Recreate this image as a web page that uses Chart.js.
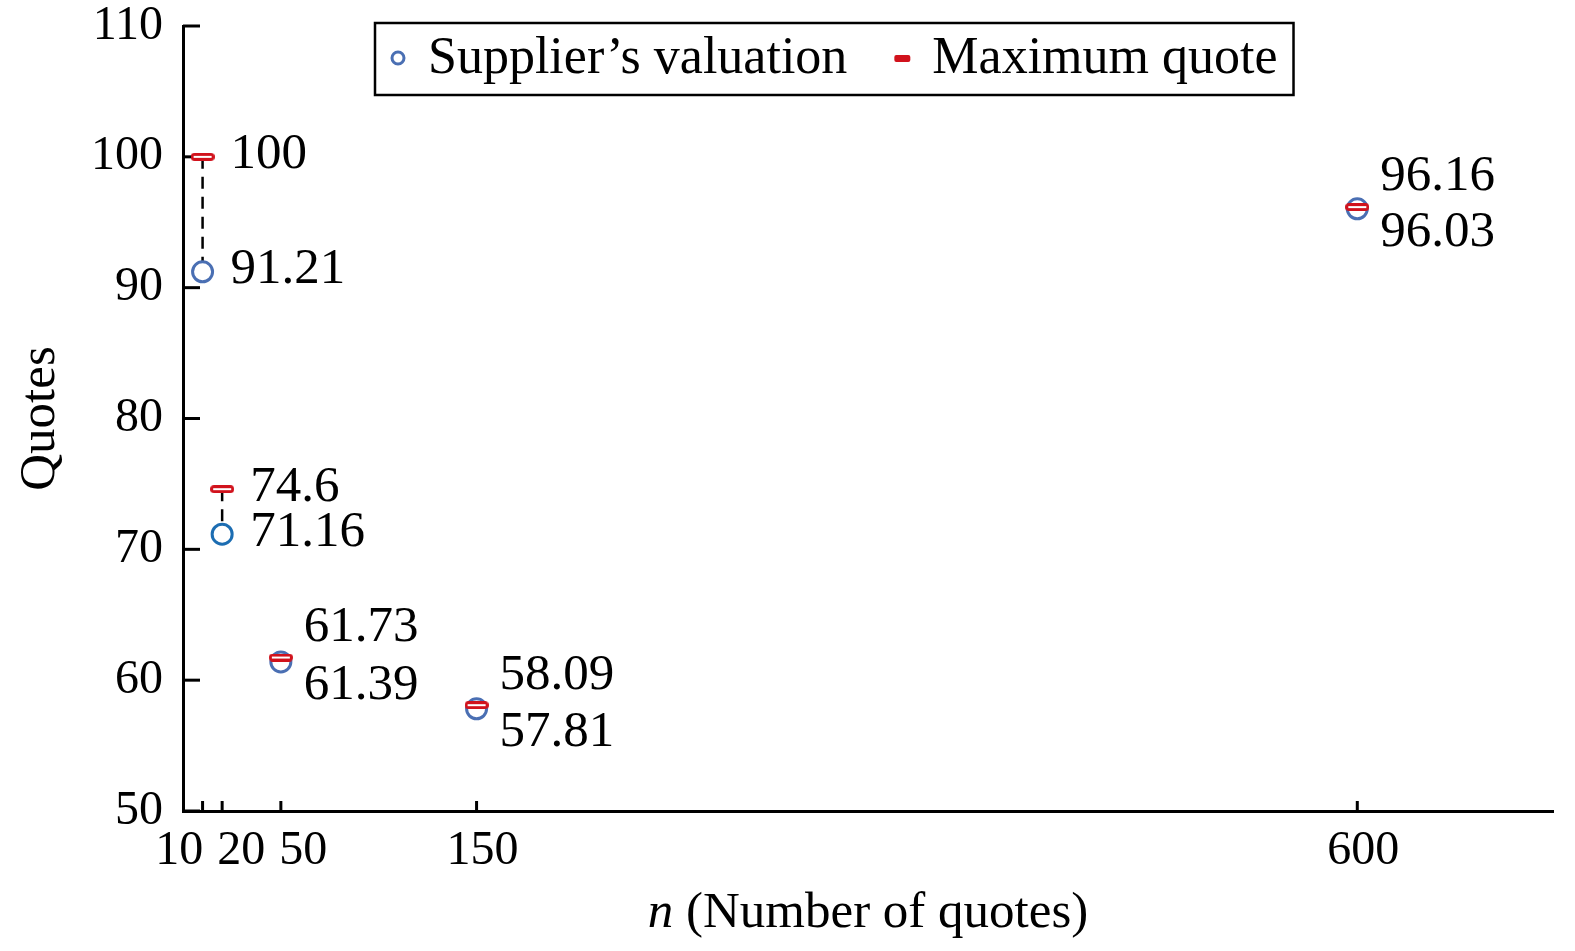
<!DOCTYPE html>
<html>
<head>
<meta charset="utf-8">
<script src="https://cdn.jsdelivr.net/npm/chart.js@4.4.1/dist/chart.umd.min.js"></script>
<style>
  html, body { margin: 0; padding: 0; background: #fff; }
  #wrap { width: 1575px; height: 951px; }
</style>
</head>
<body>
<div id="wrap"><canvas id="quotesChart" width="1575" height="951"></canvas></div>
<script>
// values
const nValues = [10, 20, 50, 150, 600];
const valuations = [91.21, 71.16, 61.39, 57.81, 96.03];
const maxQuotes = [100, 74.6, 61.73, 58.09, 96.16];
const yRange = [50, 110];
const xRange = [0, 700];
const seriesLabels = ['Supplier\u2019s valuation', 'Maximum quote'];

const SERIF = '"Liberation Serif", "Times New Roman", serif';
const BLUE = '#4a6fb3';
const BLUE_DARK = '#1c6db2';
const RED = '#d1121c';
// n=20 circle is drawn in a darker blue in the original
const circleColors = nValues.map((n, i) => i === 1 ? BLUE_DARK : BLUE);

function makeBar(w, h, hollow) {
    const c = document.createElement('canvas');
    c.width = w; c.height = h;
    const g = c.getContext('2d');
    g.fillStyle = RED;
    g.beginPath();
    g.roundRect(0, 0, w, h, h / 2);
    g.fill();
    if (hollow) {
        g.fillStyle = '#fff';
        g.fillRect(3, h / 2 - 1, w - 6, 2);
    }
    return c;
}
const barMarker = makeBar(24, 8, true);

// dashed connectors only where the two values are visibly apart
const connectors = nValues
    .map((n, i) => ({ n: n, lo: valuations[i], hi: maxQuotes[i] }))
    .filter(p => p.hi - p.lo > 2)
    .map(p => ({
        type: 'line',
        data: [{ x: p.n, y: p.hi }, { x: p.n, y: p.lo }],
        borderColor: '#000',
        borderWidth: 2.5,
        borderDash: [12, 8],
        pointRadius: 0,
        showLine: true,
        fill: false,
        order: 2
    }));

const extras = {
    id: 'extras',
    beforeDatasetsDraw(chart) {
        const { ctx, chartArea, scales } = chart;
        ctx.save();
        ctx.strokeStyle = '#000';
        ctx.lineWidth = 3;
        // ticks point inward
        scales.y.ticks.forEach(t => {
            const py = scales.y.getPixelForValue(t.value);
            ctx.beginPath();
            ctx.moveTo(chartArea.left, py);
            ctx.lineTo(chartArea.left + 17, py);
            ctx.stroke();
        });
        scales.x.ticks.forEach(t => {
            const px = scales.x.getPixelForValue(t.value);
            ctx.beginPath();
            ctx.moveTo(px, chartArea.bottom);
            ctx.lineTo(px, chartArea.bottom - 10);
            ctx.stroke();
        });
        ctx.restore();
    },
    afterDraw(chart) {
        const { ctx, chartArea, scales } = chart;
        ctx.save();
        ctx.fillStyle = '#000';

        // x tick labels, pushed apart where they would collide
        ctx.font = '48px ' + SERIF;
        ctx.textAlign = 'center';
        ctx.textBaseline = 'middle';
        const labs = scales.x.ticks.map(t => {
            const s = String(t.value);
            return { s: s, c: scales.x.getPixelForValue(t.value), w: ctx.measureText(s).width };
        });
        for (let k = 0; k < 50; k++) {
            for (let i = 0; i < labs.length - 1; i++) {
                const a = labs[i], b = labs[i + 1];
                const need = (a.w + b.w) / 2 + 14 - (b.c - a.c);
                if (need > 0) { a.c -= need / 2; b.c += need / 2; }
            }
        }
        labs.forEach(l => ctx.fillText(l.s, l.c + 6, chartArea.bottom + 40));

        // x title with italic n
        const ty = chartArea.bottom + 103;
        ctx.textAlign = 'left';
        ctx.font = 'italic 51px ' + SERIF;
        const w1 = ctx.measureText('n').width;
        ctx.font = '51px ' + SERIF;
        const rest = ' (Number of quotes)';
        const w2 = ctx.measureText(rest).width;
        const x0 = (chartArea.left + chartArea.right) / 2 - (w1 + w2) / 2;
        ctx.font = 'italic 51px ' + SERIF;
        ctx.fillText('n', x0, ty);
        ctx.font = '51px ' + SERIF;
        ctx.fillText(rest, x0 + w1, ty);

        // value labels
        ctx.font = '51px ' + SERIF;
        nValues.forEach((n, i) => {
            const px = scales.x.getPixelForValue(n);
            const yv = scales.y.getPixelForValue(valuations[i]);
            const ym = scales.y.getPixelForValue(maxQuotes[i]);
            if (maxQuotes[i] - valuations[i] > 2) {
                ctx.fillText(String(maxQuotes[i]), px + 28, ym - 2);
                ctx.fillText(String(valuations[i]), px + 28, yv - 2);
            } else {
                ctx.fillText(String(maxQuotes[i]), px + 23, ym - 30);
                ctx.fillText(String(valuations[i]), px + 23, yv + 24);
            }
        });

        // legend box
        const bx = chartArea.left + 192, by = chartArea.top - 3, bh = 72;
        const cy = by + bh / 2;
        let cx = bx + 23;
        ctx.font = '52px ' + SERIF;
        ctx.strokeStyle = BLUE;
        ctx.lineWidth = 3;
        ctx.beginPath();
        ctx.arc(cx, cy - 1, 6, 0, Math.PI * 2);
        ctx.stroke();
        ctx.fillText(seriesLabels[0], cx + 30, cy);
        cx = cx + 30 + ctx.measureText(seriesLabels[0]).width + 55;
        ctx.fillStyle = RED;
        ctx.beginPath();
        ctx.roundRect(cx - 8, cy - 4, 16, 7, 2);
        ctx.fill();
        ctx.fillStyle = '#000';
        ctx.fillText(seriesLabels[1], cx + 30, cy);
        const bw = cx + 30 + ctx.measureText(seriesLabels[1]).width + 16 - bx;
        ctx.strokeStyle = '#000';
        ctx.lineWidth = 2.5;
        ctx.strokeRect(bx, by, bw, bh);
        ctx.restore();
    }
};

const ctx = document.getElementById('quotesChart').getContext('2d');
const chart = new Chart(ctx, {
    type: 'scatter',
    data: {
        datasets: [{
            label: seriesLabels[1],
            data: nValues.map((n, i) => ({ x: n, y: maxQuotes[i] })),
            pointStyle: barMarker,
            order: 0
        }, {
            label: seriesLabels[0],
            data: nValues.map((n, i) => ({ x: n, y: valuations[i] })),
            pointStyle: 'circle',
            pointRadius: 10,
            borderWidth: 3,
            borderColor: circleColors,
            backgroundColor: '#fff',
            order: 1
        }].concat(connectors)
    },
    options: {
        responsive: false,
        animation: false,
        events: [],
        layout: { padding: { top: 26, right: 22, left: 0, bottom: 0 } },
        plugins: {
            legend: { display: false },
            tooltip: { enabled: false }
        },
        scales: {
            x: {
                type: 'linear',
                min: xRange[0],
                max: xRange[1],
                afterBuildTicks: scale => {
                    scale.ticks = nValues.map(v => ({ value: v }));
                },
                afterFit: scale => {
                    scale.height = 140;
                    scale.paddingLeft = 0;
                    scale.paddingRight = 0;
                },
                ticks: { display: false },
                grid: { display: false, drawTicks: false },
                border: { display: true, color: '#000', width: 3 }
            },
            y: {
                min: yRange[0],
                max: yRange[1],
                afterFit: scale => {
                    scale.width = 183;
                    scale.paddingTop = 0;
                    scale.paddingBottom = 0;
                },
                ticks: {
                    stepSize: 10,
                    color: '#000',
                    padding: 20,
                    font: { family: SERIF, size: 48 }
                },
                grid: { display: false, drawTicks: false },
                border: { display: true, color: '#000', width: 3 },
                title: {
                    display: true,
                    text: 'Quotes',
                    color: '#000',
                    font: { family: SERIF, size: 51 },
                    padding: { top: 10, bottom: 0 }
                }
            }
        }
    },
    plugins: [extras]
});
</script>
</body>
</html>
